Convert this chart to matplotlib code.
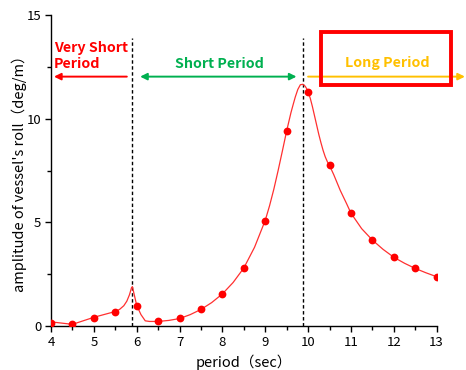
import matplotlib
matplotlib.use("Agg")
import matplotlib.pyplot as plt
from matplotlib.patches import FancyBboxPatch
from matplotlib.ticker import MultipleLocator

plt.rcParams['font.family'] = ['Noto Sans CJK JP', 'DejaVu Sans']

# measured roll amplitude per wave period
period = [4.0, 4.5, 5.0, 5.5, 6.0, 6.5, 7.0, 7.5, 8.0, 8.5, 9.0, 9.5,
          10.0, 10.5, 11.0, 11.5, 12.0, 12.5, 13.0]
amplitude = [0.16, 0.08, 0.41, 0.70, 0.98, 0.22, 0.37, 0.80, 1.55, 2.80, 5.09, 9.42,
             11.31, 7.77, 5.44, 4.14, 3.32, 2.79, 2.38]

# calculated response curve
curve_period = [4.0, 4.25, 4.5, 4.75, 5.0, 5.25, 5.5, 5.6, 5.7, 5.77, 5.83, 5.88, 5.90,
                5.95, 6.0, 6.1, 6.2, 6.3, 6.5, 6.75, 7.0, 7.25, 7.5, 7.75, 8.0,
                8.25, 8.5, 8.75, 9.0, 9.1, 9.2, 9.3, 9.4, 9.5, 9.6, 9.65, 9.7, 9.76,
                9.82, 9.88, 9.93, 9.97, 10.0, 10.05, 10.1, 10.15, 10.2, 10.25, 10.3,
                10.35, 10.4, 10.45, 10.5, 10.6, 10.75, 10.9, 11.0, 11.25, 11.5, 11.75,
                12.0, 12.25, 12.5, 12.75, 13.0]
curve_amplitude = [0.20, 0.14, 0.08, 0.25, 0.42, 0.56, 0.70, 0.80, 0.98, 1.20, 1.50, 1.85, 1.90,
                   1.45, 1.00, 0.55, 0.25, 0.22, 0.22, 0.27, 0.36, 0.55, 0.80, 1.13, 1.55,
                   2.10, 2.80, 3.80, 5.10, 5.80, 6.60, 7.50, 8.45, 9.42, 10.30, 10.68, 11.05, 11.42,
                   11.65, 11.67, 11.58, 11.45, 11.31, 11.00, 10.60, 10.15, 9.70, 9.25, 8.85,
                   8.48, 8.17, 7.93, 7.75, 7.30, 6.55, 5.90, 5.45, 4.70, 4.15, 3.70,
                   3.32, 3.03, 2.78, 2.57, 2.38]

# boundaries between period ranges
boundaries = [5.9, 9.89]

fig = plt.figure(figsize=(4.66, 3.70), dpi=100)
ax = fig.add_axes([0.1094, 0.1189, 0.8276, 0.8397])

ax.plot(curve_period, curve_amplitude, color='#ff3030', lw=0.9, zorder=2)
ax.plot(period, amplitude, 'o', color='#ff0000', ms=5.6, mec='none', zorder=3)

for b in boundaries:
    ax.plot([b, b], [0, 13.92], color='black', lw=1.0, ls=(0, (2.5, 1.8)), zorder=1)

ax.set_xlim(4, 13)
ax.set_ylim(0, 15)
ax.xaxis.set_major_locator(MultipleLocator(1))
ax.xaxis.set_minor_locator(MultipleLocator(0.5))
ax.yaxis.set_major_locator(MultipleLocator(5))
ax.yaxis.set_minor_locator(MultipleLocator(2.5))
for s in ['top', 'right']:
    ax.spines[s].set_visible(False)
for s in ['left', 'bottom']:
    ax.spines[s].set_linewidth(1.0)
ax.tick_params(which='major', direction='out', length=4, width=1.0, labelsize=9.5, pad=3)
ax.tick_params(which='minor', direction='out', length=3, width=1.0)

ax.set_xlabel('period（sec）', fontsize=10.5, labelpad=4)
ax.set_ylabel("amplitude of vessel's roll（deg/m）", fontsize=10.5, labelpad=0)

# range arrows
arrow_y = 12.04
ax.annotate('', xy=(4.07, arrow_y), xytext=(5.77, arrow_y), annotation_clip=False,
            arrowprops=dict(arrowstyle='-|>,head_length=0.4,head_width=0.2',
                            color='#ff0000', lw=1.4, shrinkA=0, shrinkB=0))
ax.annotate('', xy=(9.73, arrow_y), xytext=(6.08, arrow_y), annotation_clip=False,
            arrowprops=dict(arrowstyle='<|-|>,head_length=0.4,head_width=0.2',
                            color='#00b050', lw=1.4, shrinkA=0, shrinkB=0))
ax.annotate('', xy=(13.66, arrow_y), xytext=(10.0, arrow_y), annotation_clip=False,
            arrowprops=dict(arrowstyle='-|>,head_length=0.4,head_width=0.2',
                            color='#ffc000', lw=1.4, shrinkA=0, shrinkB=0))

ax.text(4.07, 13.42, 'Very Short', color='#ff0000', fontsize=10.3, fontweight='bold',
        ha='left', va='center')
ax.text(4.07, 12.65, 'Period', color='#ff0000', fontsize=10.3, fontweight='bold',
        ha='left', va='center')
ax.text(7.93, 12.65, 'Short Period', color='#00b050', fontsize=10.3, fontweight='bold',
        ha='center', va='center')
ax.text(11.84, 12.68, 'Long Period', color='#ffc000', fontsize=10.3, fontweight='bold',
        ha='center', va='center', zorder=5)

box = FancyBboxPatch((10.29, 11.64), 13.33 - 10.29, 14.21 - 11.64,
                     boxstyle='square,pad=0', fill=False, edgecolor='#ff0000',
                     lw=2.8, clip_on=False, zorder=6)
ax.add_patch(box)

fig.savefig('out.png', dpi=100)
